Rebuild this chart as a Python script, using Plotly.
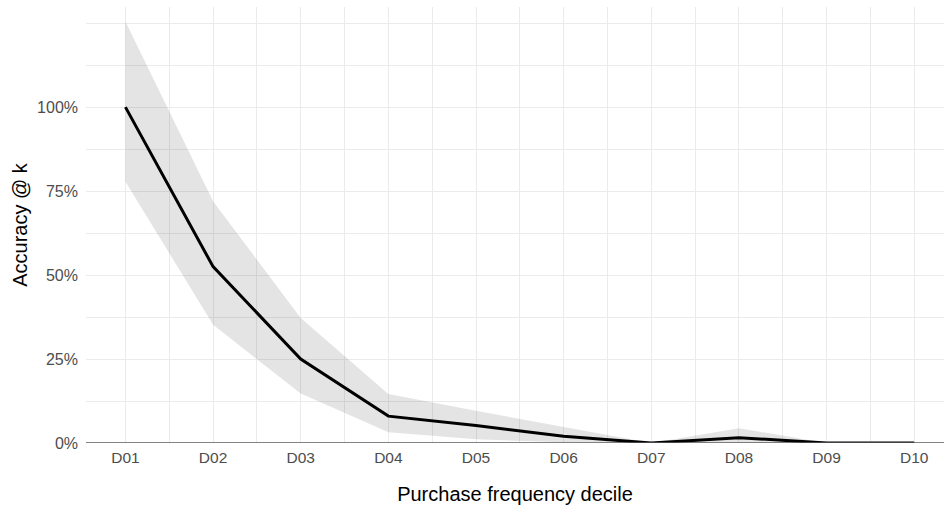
import plotly.graph_objects as go

deciles = ["D01", "D02", "D03", "D04", "D05", "D06", "D07", "D08", "D09", "D10"]
accuracy = [100.0, 52.5, 25.0, 8.0, 5.2, 2.0, 0.0, 1.6, 0.0, 0.0]
upper = [125.5, 72.0, 37.2, 14.6, 9.6, 4.8, 0.0, 4.4, 0.0, 0.0]
lower = [77.8, 35.2, 14.7, 3.2, 1.1, 0.2, 0.0, 0.0, 0.0, 0.0]
y_ticks = [0, 25, 50, 75, 100]
y_tick_labels = ["0%", "25%", "50%", "75%", "100%"]

xpos = list(range(len(deciles)))

fig = go.Figure()
fig.add_trace(go.Scatter(x=xpos, y=upper, mode="lines", line=dict(width=0),
                         showlegend=False, hoverinfo="skip"))
fig.add_trace(go.Scatter(x=xpos, y=lower, mode="lines", line=dict(width=0),
                         fill="tonexty", fillcolor="rgba(0,0,0,0.105)",
                         showlegend=False, hoverinfo="skip"))
fig.add_hline(y=0, line=dict(color="#5a5a5a", width=1.6))
fig.add_trace(go.Scatter(x=xpos, y=accuracy, mode="lines",
                         line=dict(color="black", width=3), showlegend=False))

font_family = "Liberation Sans, Arial, sans-serif"
fig.update_layout(
    width=944, height=510,
    margin=dict(l=86, r=0, t=7, b=67),
    plot_bgcolor="white", paper_bgcolor="white",
    font=dict(family=font_family),
    xaxis=dict(
        range=[-0.45, 9.34], automargin=False,
        tickmode="array", tickvals=xpos, ticktext=deciles,
        tickfont=dict(size=15.5, color="#4d4d4d"), ticklabelstandoff=3,
        showgrid=True, gridcolor="#ebebeb", gridwidth=1,
        minor=dict(dtick=0.5, tick0=0, showgrid=True, gridcolor="#ebebeb", gridwidth=0.6),
        zeroline=False, showline=False, ticks="", ticklen=0,
        title=dict(text="Purchase frequency decile", font=dict(size=20, color="black"), standoff=22),
    ),
    yaxis=dict(
        range=[0, 129.8], automargin=False,
        tickmode="array", tickvals=y_ticks, ticktext=y_tick_labels,
        tickfont=dict(size=16, color="#4d4d4d"), ticklabelstandoff=7,
        showgrid=True, gridcolor="#ebebeb", gridwidth=1,
        minor=dict(dtick=12.5, tick0=0, showgrid=True, gridcolor="#ebebeb", gridwidth=0.6),
        zeroline=False, showline=False, ticks="", ticklen=0,
        title=dict(text="Accuracy @ k", font=dict(size=20, color="black"), standoff=4),
    ),
)

fig.write_html("out.html", config={"displayModeBar": False},
               post_script="document.body.style.margin='0';document.body.style.padding='0';")
